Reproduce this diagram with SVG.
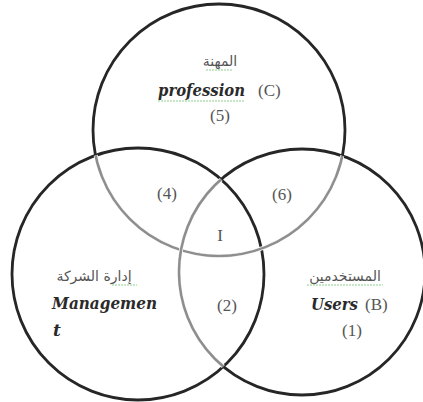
<svg xmlns="http://www.w3.org/2000/svg" width="423" height="402" viewBox="0 0 423 402">
<style>
.ring{fill:none;stroke:#262626;stroke-width:2.8}
.soft{fill:none;stroke:#8e8e8e;stroke-width:2.6}
.t{font-family:"Liberation Serif","Times New Roman",serif;font-size:17px;fill:#555}
.b{font-family:"DejaVu Serif","Liberation Serif",serif;font-size:17px;font-weight:bold;font-style:italic;fill:#2a2a2a}
.ar{font-family:"DejaVu Sans","Noto Sans",sans-serif;font-size:14px;fill:#555}
.sp{stroke:#8fd08f;stroke-width:1;stroke-dasharray:2 1;fill:none}
</style>
<defs>
<clipPath id="inAB"><circle cx="138" cy="274" r="126"/><circle cx="302" cy="272" r="123"/></clipPath>
<clipPath id="inA"><circle cx="138" cy="274" r="126"/></clipPath>
</defs>
<rect width="423" height="402" fill="#fff"/>
<g id="profession">
<circle class="ring" cx="219" cy="130" r="126"/>
</g>
<g id="management">
<circle class="ring" cx="138" cy="274" r="126"/>
</g>
<g id="users">
<circle class="ring" cx="302" cy="272" r="123"/>
</g>
<g id="overlaps">
<circle cx="219" cy="130" r="126" clip-path="url(#inAB)" fill="none" stroke="#fff" stroke-width="4"/>
<circle class="soft" cx="219" cy="130" r="126" clip-path="url(#inAB)"/>
<circle cx="302" cy="272" r="123" clip-path="url(#inA)" fill="none" stroke="#fff" stroke-width="4"/>
<circle class="soft" cx="302" cy="272" r="123" clip-path="url(#inA)"/>
</g>
<g id="label-profession">
<text class="ar" x="220" y="66" text-anchor="middle">المهنة</text>
<line class="sp" x1="206" y1="70" x2="232" y2="70"/>
<text class="b" x="158" y="96" textLength="87" lengthAdjust="spacingAndGlyphs">profession</text>
<text class="t" x="258" y="96">(C)</text>
<line class="sp" x1="158" y1="101" x2="245" y2="101"/>
<text class="t" x="220" y="121" text-anchor="middle">(5)</text>
</g>
<g id="label-management">
<text class="ar" x="94" y="281" text-anchor="middle">إدارة الشركة</text>
<line class="sp" x1="112" y1="285" x2="137" y2="285"/>
<text class="b" x="52" y="309" textLength="105" lengthAdjust="spacingAndGlyphs">Managemen</text>
<text class="b" x="53" y="336">t</text>
</g>
<g id="label-users">
<text class="ar" x="345" y="281" text-anchor="middle">المستخدمين</text>
<line class="sp" x1="307" y1="285" x2="383" y2="285"/>
<text class="b" x="311" y="310" textLength="47" lengthAdjust="spacingAndGlyphs">Users</text>
<text class="t" x="365" y="310">(B)</text>
<text class="t" x="352" y="336" text-anchor="middle">(1)</text>
</g>
<g id="regions">
<text class="t" x="167" y="199" text-anchor="middle">(4)</text>
<text class="t" x="282" y="200" text-anchor="middle">(6)</text>
<text class="t" x="220" y="241" text-anchor="middle">I</text>
<text class="t" x="227" y="311" text-anchor="middle">(2)</text>
</g>
</svg>
